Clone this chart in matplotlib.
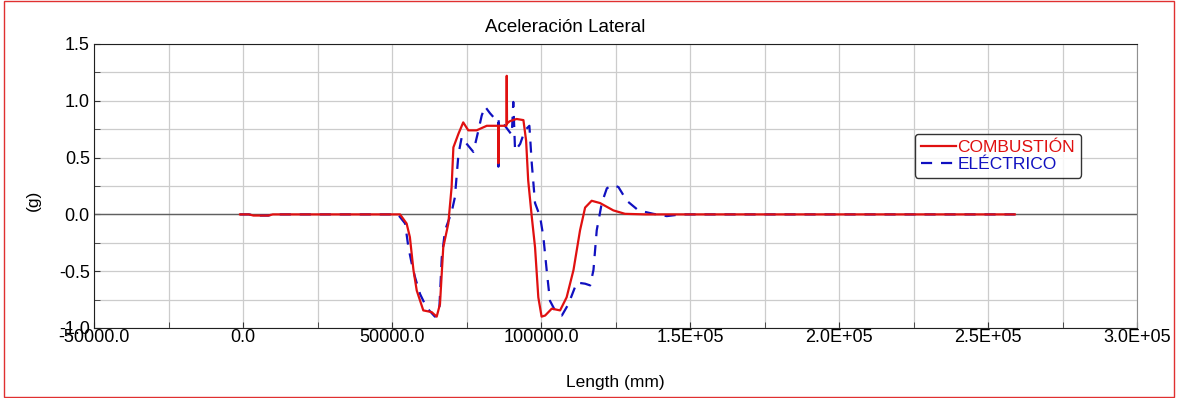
import matplotlib
matplotlib.use("Agg")
import matplotlib.pyplot as plt
from matplotlib.ticker import MultipleLocator
from matplotlib.patches import Rectangle

plt.rcParams['font.family'] = ['Liberation Sans', 'DejaVu Sans']

# COMBUSTIÓN (red, solid)
comb_x = [-1000, 2000, 3500, 8500, 10000, 30000, 52700, 54900, 56000, 57200, 58300,
          60500, 63300, 65000, 66100, 67200, 68900, 70000, 70600, 72300, 73900,
          75600, 78400, 81800, 84600, 85600, 85700, 85800, 86500, 88400, 88500,
          88600, 89500, 91800, 94100, 95000, 95700, 96900, 98000, 99100, 100200,
          101400, 103600, 106400, 108600, 110900, 113100, 114800, 117000, 119800,
          124300, 128200, 135000, 259000]
comb_y = [0.0, 0.0, -0.01, -0.01, 0.0, 0.0, 0.0, -0.08, -0.2, -0.49, -0.67,
          -0.845, -0.86, -0.90, -0.79, -0.29, -0.08, 0.24, 0.59, 0.71, 0.81,
          0.74, 0.74, 0.78, 0.78, 0.78, 0.45, 0.78, 0.78, 0.78, 1.22,
          0.80, 0.82, 0.84, 0.83, 0.65, 0.30, -0.02, -0.29, -0.73, -0.90,
          -0.89, -0.83, -0.845, -0.73, -0.49, -0.14, 0.06, 0.12, 0.10,
          0.035, 0.005, 0.0, 0.0]

# ELÉCTRICO (blue, dashed)
elec_x = [-1000, 2000, 3500, 8500, 10000, 30000, 52000, 54400, 55500, 56600, 57700,
          59400, 61600, 64400, 65900, 66700, 67800, 70000, 71100, 72300, 73400,
          75100, 77300, 79000, 80100, 81200, 82900, 84600, 85600, 85700, 85800,
          87900, 90200, 90700, 91300, 93000, 94600, 96100, 96900, 98000, 99700,
          100800, 101900, 103000, 104700, 107000, 109200, 112000, 114800, 116500,
          117600, 118700, 120400, 122100, 124300, 126000, 128800, 132700, 137700,
          142200, 147000, 259000]
elec_y = [0.0, 0.0, -0.01, -0.01, 0.0, 0.0, 0.0, -0.08, -0.29, -0.43, -0.55,
          -0.70, -0.82, -0.90, -0.82, -0.38, -0.14, 0.02, 0.15, 0.53, 0.68,
          0.62, 0.55, 0.74, 0.87, 0.95, 0.89, 0.84, 0.84, 0.42, 0.84,
          0.78, 0.70, 0.99, 0.56, 0.62, 0.74, 0.78, 0.45, 0.10, -0.02,
          -0.2, -0.49, -0.76, -0.845, -0.89, -0.79, -0.60, -0.61, -0.625,
          -0.49, -0.14, 0.10, 0.23, 0.26, 0.24, 0.12, 0.035, 0.005,
          -0.015, 0.0, 0.0]

x_ticks = [-50000, 0, 50000, 100000, 150000, 200000, 250000, 300000]
x_tick_labels = ['-50000.0', '0.0', '50000.0', '100000.0', '1.5E+05', '2.0E+05',
                 '2.5E+05', '3.0E+05']
y_ticks = [-1.0, -0.5, 0.0, 0.5, 1.0, 1.5]
y_tick_labels = ['-1.0', '-0.5', '0.0', '0.5', '1.0', '1.5']

fig = plt.figure(figsize=(11.78, 3.98), dpi=100)
ax = fig.add_axes([94 / 1178, 1 - 328 / 398, 1043 / 1178, 284 / 398])

ax.axhline(0, color='#606060', lw=1.0, zorder=1)
ax.plot(comb_x, comb_y, color='#e01010', lw=1.6, label='COMBUSTIÓN', zorder=3)
ax.plot(elec_x, elec_y, color='#1010c0', lw=1.6, ls=(0, (5, 4)), label='ELÉCTRICO', zorder=2)

ax.set_xlim(-50000, 300000)
ax.set_ylim(-1.0, 1.5)
ax.set_xticks(x_ticks)
ax.set_xticklabels(x_tick_labels)
ax.set_yticks(y_ticks)
ax.set_yticklabels(y_tick_labels)
ax.xaxis.set_minor_locator(MultipleLocator(25000))
ax.yaxis.set_minor_locator(MultipleLocator(0.25))
ax.grid(which='both', color='#cccccc', lw=0.9)
ax.set_axisbelow(True)
ax.tick_params(which='both', direction='in', length=4, labelsize=13, color='#333333')
ax.tick_params(axis='x', pad=1)
ax.tick_params(axis='y', pad=3)

for side in ['left', 'bottom', 'top']:
    ax.spines[side].set_color('#202020')
ax.spines['right'].set_color('#909090')

fig.text(565 / 1178, 1 - 28 / 398, 'Aceleración Lateral', fontsize=13.5,
         ha='center', va='center')
fig.text(615 / 1178, 1 - 382 / 398, 'Length (mm)', fontsize=12.5,
         ha='center', va='center')
fig.text(33 / 1178, 1 - 200 / 398, '(g)', fontsize=12.5, rotation=90,
         ha='center', va='center')

leg = ax.legend(loc='upper left', bbox_to_anchor=(0.787, 0.684), fontsize=12.5,
                handlelength=2.0, handletextpad=0.1, borderpad=0.35,
                labelspacing=0.1, frameon=True, fancybox=True, borderaxespad=0)
leg.get_frame().set_edgecolor('black')
leg.get_frame().set_linewidth(1.0)
for text, col in zip(leg.get_texts(), ['#e01010', '#1010c0']):
    text.set_color(col)

fig.patches.append(Rectangle((0.003, 0.003), 0.994, 0.994, transform=fig.transFigure,
                             fill=False, edgecolor='#e03030', lw=1.0))

fig.savefig('out.png', dpi=100)
